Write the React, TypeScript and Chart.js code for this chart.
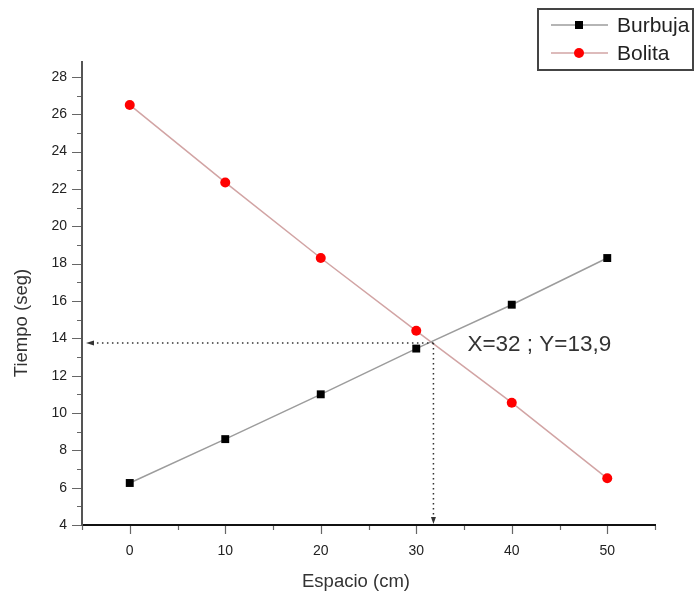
import React, { useEffect, useRef } from 'react';
import { Chart, registerables } from 'chart.js';

Chart.register(...registerables);

// ---- data ----
const espacio = [0, 10, 20, 30, 40, 50];
const burbuja = [6.25, 8.6, 11.0, 13.45, 15.8, 18.3];
const bolita = [26.5, 22.35, 18.3, 14.4, 10.55, 6.5];
const seriesNames = ['Burbuja', 'Bolita'];
const xTickLabels = [0, 10, 20, 30, 40, 50];
const yTickLabels = [4, 6, 8, 10, 12, 14, 16, 18, 20, 22, 24, 26, 28];
const xRange = [-5, 55];
const yRange = [4, 28.8];
const crossPoint = [31.8, 13.75];
const crossLabel = 'X=32 ; Y=13,9';
const xTitle = 'Espacio (cm)';
const yTitle = 'Tiempo (seg)';

const FONT = "'Liberation Sans', Arial, Helvetica, sans-serif";

const ticksPlugin = {
  id: 'originTicks',
  afterDraw(chart: any) {
    const { ctx, chartArea: ca } = chart;
    const xs = chart.scales.x;
    const ys = chart.scales.y;
    ctx.save();
    ctx.strokeStyle = '#666';
    ctx.lineWidth = 1.2;
    ctx.beginPath();
    for (let v = xRange[0]; v <= xRange[1]; v += 5) {
      const px = Math.round(xs.getPixelForValue(v)) + 0.5;
      const major = v % 10 === 0;
      ctx.moveTo(px, ca.bottom + 1);
      ctx.lineTo(px, ca.bottom + (major ? 9 : 5));
    }
    for (let v = yRange[0]; v <= yRange[1]; v += 1) {
      const py = Math.round(ys.getPixelForValue(v)) + 0.5;
      const major = v % 2 === 0;
      ctx.moveTo(ca.left - 1, py);
      ctx.lineTo(ca.left - (major ? 10 : 5), py);
    }
    ctx.stroke();
    ctx.restore();
  },
};

const titlesPlugin = {
  id: 'axisTitles',
  afterDraw(chart: any) {
    const { ctx } = chart;
    ctx.save();
    ctx.fillStyle = '#333';
    ctx.font = `18.5px ${FONT}`;
    ctx.textAlign = 'center';
    ctx.textBaseline = 'middle';
    ctx.fillText(xTitle, 356, 582);
    ctx.translate(22, 323);
    ctx.rotate(-Math.PI / 2);
    ctx.fillText(yTitle, 0, 0);
    ctx.restore();
  },
};

const annotationPlugin = {
  id: 'crossAnnotation',
  afterDraw(chart: any) {
    const { ctx, chartArea: ca } = chart;
    const xs = chart.scales.x;
    const ys = chart.scales.y;
    const cx = xs.getPixelForValue(crossPoint[0]);
    const cy = ys.getPixelForValue(crossPoint[1]);
    ctx.save();
    ctx.strokeStyle = '#333';
    ctx.lineWidth = 1.5;
    ctx.setLineDash([1.5, 3.5]);
    ctx.beginPath();
    ctx.moveTo(cx, cy);
    ctx.lineTo(ca.left + 14, cy);
    ctx.moveTo(cx, cy);
    ctx.lineTo(cx, ca.bottom - 8);
    ctx.stroke();
    ctx.setLineDash([]);
    ctx.fillStyle = '#333';
    // left arrowhead
    ctx.beginPath();
    ctx.moveTo(ca.left + 4, cy);
    ctx.lineTo(ca.left + 12, cy - 2.5);
    ctx.lineTo(ca.left + 12, cy + 2.5);
    ctx.closePath();
    ctx.fill();
    // bottom arrowhead
    ctx.beginPath();
    ctx.moveTo(cx, ca.bottom - 1);
    ctx.lineTo(cx - 2.5, ca.bottom - 8);
    ctx.lineTo(cx + 2.5, ca.bottom - 8);
    ctx.closePath();
    ctx.fill();
    // label
    ctx.font = `22.5px ${FONT}`;
    ctx.fillStyle = '#333';
    ctx.textAlign = 'left';
    ctx.textBaseline = 'middle';
    ctx.fillText(crossLabel, cx + 34, cy + 2);
    ctx.restore();
  },
};

const legendPlugin = {
  id: 'boxLegend',
  afterDraw(chart: any) {
    const { ctx } = chart;
    const left = 538;
    const top = 9;
    const w = 155;
    const h = 61;
    ctx.save();
    ctx.fillStyle = '#fff';
    ctx.fillRect(left, top, w, h);
    ctx.strokeStyle = '#444';
    ctx.lineWidth = 2;
    ctx.strokeRect(left, top, w, h);
    const rows = [top + 16, top + 44];
    chart.data.datasets.forEach((ds: any, i: number) => {
      const y = rows[i];
      ctx.strokeStyle = ds.borderColor;
      ctx.lineWidth = 1.5;
      ctx.beginPath();
      ctx.moveTo(left + 13, y);
      ctx.lineTo(left + 70, y);
      ctx.stroke();
      ctx.fillStyle = ds.pointBackgroundColor;
      const mx = left + 41;
      if (ds.pointStyle === 'rect') {
        ctx.fillRect(mx - 4, y - 4, 8, 8);
      } else {
        ctx.beginPath();
        ctx.arc(mx, y, 5, 0, Math.PI * 2);
        ctx.fill();
      }
      ctx.fillStyle = '#222';
      ctx.font = `21px ${FONT}`;
      ctx.textAlign = 'left';
      ctx.textBaseline = 'middle';
      ctx.fillText(ds.label, left + 79, y + 1);
    });
    ctx.restore();
  },
};

const bgPlugin = {
  id: 'whiteBg',
  beforeDraw(chart: any) {
    const { ctx, width, height } = chart;
    ctx.save();
    ctx.fillStyle = '#fff';
    ctx.fillRect(0, 0, width, height);
    ctx.restore();
  },
};

export default function App() {
  const ref = useRef<HTMLCanvasElement | null>(null);

  useEffect(() => {
    if (!ref.current) return;
    const chart = new Chart(ref.current, {
      type: 'line',
      data: {
        datasets: [
          {
            label: seriesNames[0],
            data: espacio.map((x, i) => ({ x, y: burbuja[i] })),
            borderColor: '#9c9c9c',
            borderWidth: 1.5,
            pointStyle: 'rect',
            pointRadius: 5.6,
            pointBackgroundColor: '#000',
            pointBorderWidth: 0,
            fill: false,
          },
          {
            label: seriesNames[1],
            data: espacio.map((x, i) => ({ x, y: bolita[i] })),
            borderColor: '#d2a4a4',
            borderWidth: 1.5,
            pointStyle: 'circle',
            pointRadius: 5,
            pointBackgroundColor: '#ff0000',
            pointBorderWidth: 0,
            fill: false,
          },
        ],
      },
      options: {
        responsive: false,
        animation: false,
        layout: { padding: { top: 62, right: 40, left: 0, bottom: 0 } },
        plugins: { legend: { display: false }, tooltip: { enabled: false } },
        scales: {
          x: {
            type: 'linear',
            min: xRange[0],
            max: xRange[1],
            grid: { display: false, drawTicks: false },
            border: { display: true, color: '#111', width: 2 },
            afterBuildTicks: (s: any) => {
              s.ticks = xTickLabels.map((v) => ({ value: v }));
            },
            ticks: {
              autoSkip: false,
              maxRotation: 0,
              padding: 18,
              color: '#222',
              font: { family: FONT, size: 14 },
            },
            title: { display: false },
            afterFit: (s: any) => {
              s.height = 72;
            },
          },
          y: {
            type: 'linear',
            min: yRange[0],
            max: yRange[1],
            grid: { display: false, drawTicks: false },
            border: { display: true, color: '#555', width: 2 },
            afterBuildTicks: (s: any) => {
              s.ticks = yTickLabels.map((v) => ({ value: v }));
            },
            ticks: {
              autoSkip: false,
              padding: 15,
              color: '#222',
              font: { family: FONT, size: 14 },
            },
            title: { display: false },
            afterFit: (s: any) => {
              s.width = 82;
            },
          },
        },
      },
      plugins: [bgPlugin, ticksPlugin, titlesPlugin, annotationPlugin, legendPlugin],
    } as any);
    return () => chart.destroy();
  }, []);

  return (
    <div style={{ position: 'fixed', left: 0, top: 0, width: 695, height: 597, background: '#fff' }}>
      <canvas ref={ref} width={695} height={597} style={{ display: 'block' }} />
    </div>
  );
}
